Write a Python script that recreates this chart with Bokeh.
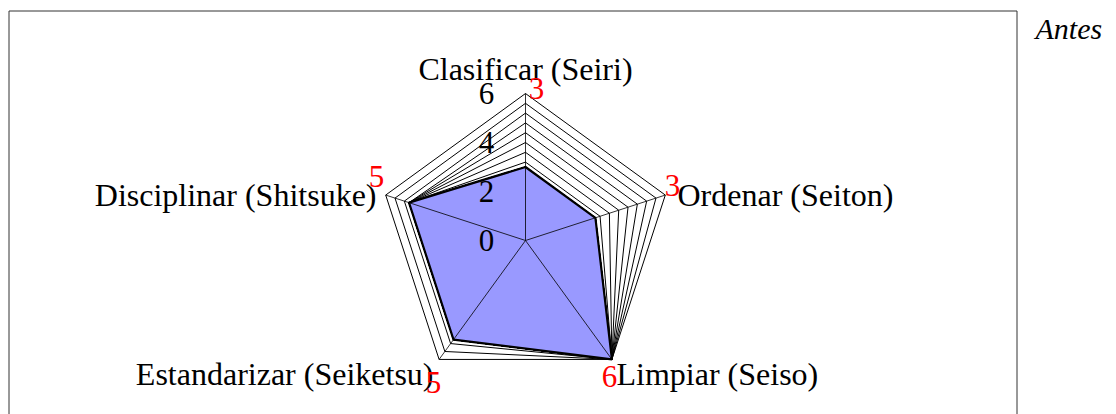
import math
import numpy as np
from bokeh.plotting import figure
from bokeh.models import Range1d
from bokeh.core.properties import value
from bokeh.embed import file_html
from bokeh.resources import INLINE

# ---- data ----
categories = ["Clasificar (Seiri)", "Ordenar (Seiton)", "Limpiar (Seiso)",
              "Estandarizar (Seiketsu)", "Disciplinar (Shitsuke)"]
values = [3, 3, 6, 5, 5]
series_name = "Antes"
axis_max = 6
axis_ticks = [0, 2, 4, 6]
levels = [0.4 * k for k in range(1, 16)]  # 0.4 .. 6.0

# ---- layout (page px) ----
SCALE = 24.5          # px per unit
CX, CY = 525, 240     # centre on page
W, H = 1116, 414
PAGE_X0, PAGE_Y0 = 0, 0


def dx(page_x):
    return (page_x - CX) / SCALE


def dy(page_y):
    return (CY - page_y) / SCALE


p = figure(width=W, height=H, output_backend="svg", toolbar_location=None,
           x_range=Range1d(dx(PAGE_X0), dx(PAGE_X0 + W)),
           y_range=Range1d(dy(PAGE_Y0 + H), dy(PAGE_Y0)),
           x_axis_location=None, y_axis_location=None,
           min_border=0, outline_line_color=None)
p.grid.visible = False
p.background_fill_color = "white"

n = len(categories)
angles = [math.pi / 2 - 2 * math.pi * i / n for i in range(n)]
cosv = np.cos(angles)
sinv = np.sin(angles)

# frame box (left, top, right sides; bottom falls below the window)
bx = [dx(8.5), dx(8.5), dx(1016.5), dx(1016.5)]
by = [dy(440), dy(10.5), dy(10.5), dy(440)]
p.line(bx, by, line_color="#333333", line_width=1)

# nested level polygons: vertex radius = max(value, level)
xs, ys = [], []
for L in levels:
    r = [max(v, L) for v in values]
    xs.append(list(np.array(r) * cosv) + [r[0] * cosv[0]])
    ys.append(list(np.array(r) * sinv) + [r[0] * sinv[0]])
p.multi_line(xs, ys, line_color="black", line_width=1)

# data polygon
vx = list(np.array(values) * cosv)
vy = list(np.array(values) * sinv)
p.patch(vx, vy, fill_color="#9999FF", fill_alpha=1.0, line_color="black", line_width=2.2)

# spokes
p.multi_line([[0, axis_max * c] for c in cosv], [[0, axis_max * s] for s in sinv],
             line_color="black", line_width=0.8)

serif = value("Liberation Serif")

# axis tick labels
p.text(x=[dx(486)] * len(axis_ticks), y=[t for t in axis_ticks], text=[str(t) for t in axis_ticks],
       text_font=serif, text_font_size="31px", text_color="black",
       text_align="center", text_baseline="middle")

# category labels (page px anchors)
lab_pos = [(525, 68, "center"), (677, 194, "left"), (616, 373, "left"),
           (433, 373, "right"), (376, 194, "right")]
for cat, (lx, ly, al) in zip(categories, lab_pos):
    p.text(x=[dx(lx)], y=[dy(ly)], text=[cat], text_font=serif, text_font_size="32px",
           text_color="black", text_align=al, text_baseline="middle")

# red value labels
val_pos = [(536, 88), (672, 185), (609, 376), (433, 382), (376, 176)]
p.text(x=[dx(a) for a, b in val_pos], y=[dy(b) for a, b in val_pos],
       text=[str(v) for v in values], text_font=serif, text_font_size="31px",
       text_color="red", text_align="center", text_baseline="middle")

# series name
p.text(x=[dx(1035)], y=[dy(28)], text=[series_name], text_font=serif,
       text_font_size="30px", text_font_style="italic", text_color="black",
       text_align="left", text_baseline="middle")

open("out.html", "w").write(file_html(p, INLINE))
